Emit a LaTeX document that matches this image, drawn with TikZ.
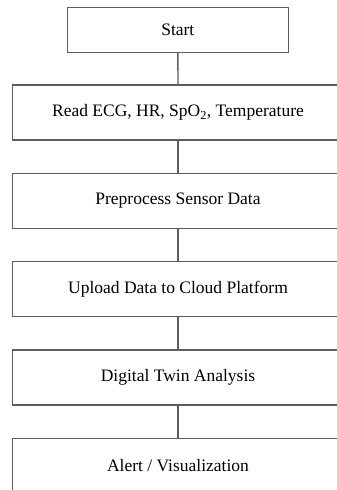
\documentclass[tikz,border=0pt]{standalone}
\usepackage{fontspec}
\setmainfont{Liberation Serif}
\definecolor{edgegrey}{HTML}{5E5E5E}
\begin{document}
\begin{tikzpicture}[x=1pt,y=1pt,
  stepbox/.style={draw=edgegrey, line width=1.3pt, rectangle, inner sep=0pt,
    minimum width=330.6pt, minimum height=55pt, font=\fontsize{17.5}{20}\selectfont},
  startbox/.style={stepbox, minimum width=221pt, minimum height=45pt},
  link/.style={draw=edgegrey, line width=1.3pt}]
  \useasboundingbox (0,0) rectangle (337,490);
  \clip (0,0) rectangle (337,490);
  \node[startbox] (start) at (177.8,460) {Start};
  \node[stepbox] (read) at (178,377.5) {Read ECG, HR, SpO\textsubscript{2}, Temperature};
  \node[stepbox] (prep) at (178,289.2) {Preprocess Sensor Data};
  \node[stepbox] (upload) at (178,200.9) {Upload Data to Cloud Platform};
  \node[stepbox] (twin) at (178,112.6) {Digital Twin Analysis};
  \node[stepbox] (alert) at (178,24.3) {Alert / Visualization};
  \draw[link] (start) -- (read);
  \draw[link] (read) -- (prep);
  \draw[link] (prep) -- (upload);
  \draw[link] (upload) -- (twin);
  \draw[link] (twin) -- (alert);
\end{tikzpicture}
\end{document}
